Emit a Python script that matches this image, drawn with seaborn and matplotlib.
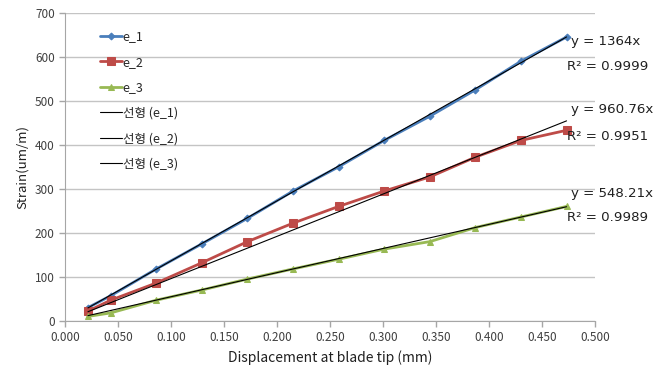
import numpy as np
import pandas as pd
import seaborn as sns
import matplotlib
matplotlib.use("Agg")
import matplotlib.pyplot as plt
from matplotlib.ticker import FormatStrFormatter

# data
disp = [0.0215, 0.043, 0.086, 0.129, 0.172, 0.215, 0.258, 0.301, 0.344, 0.387, 0.430, 0.473]
e_1 = [30, 57, 118, 175, 233, 295, 350, 410, 465, 525, 590, 645]
e_2 = [22, 47, 86, 132, 180, 222, 260, 295, 327, 372, 410, 433]
e_3 = [10, 18, 47, 70, 95, 118, 140, 163, 180, 212, 236, 260]
slopes = [1364, 960.76, 548.21]
r2 = ["0.9999", "0.9951", "0.9989"]
names = ["e_1", "e_2", "e_3"]

sns.set_style("white")
plt.rcParams["font.family"] = ["Noto Sans CJK KR", "DejaVu Sans"]

colors = ["#4A7EBB", "#BE4B48", "#98B954"]
markers = ["D", "s", "^"]
msizes = [3.5, 5.5, 5]

fig = plt.figure(figsize=(6.65, 3.77), dpi=100)
ax = fig.add_axes([0.098, 0.149, 0.797, 0.817])

for ys, name, c, m, ms in zip([e_1, e_2, e_3], names, colors, markers, msizes):
    sns.lineplot(x=disp, y=ys, ax=ax, color=c, marker=m, markersize=ms,
                 markeredgecolor=c, linewidth=2, label=name)

x = np.array([disp[0], disp[-1]])
for s, name in zip(slopes, names):
    sns.lineplot(x=x, y=s * x, ax=ax, color="black", linewidth=0.8,
                 label=f"선형 ({name})")

# trendline equations
txt_pos = [(634, 577), (480, 420), (289, 234)]
for s, r, (yy, yr) in zip(slopes, r2, txt_pos):
    ax.text(0.477, yy, f"y = {s:g}x", fontsize=9.6, va="center", ha="left",
            family="DejaVu Sans", color="#202020")
    ax.text(0.473, yr, f"R² = {r}", fontsize=9.6, va="center", ha="left",
            family="DejaVu Sans", color="#202020")

ax.set_xlim(0, 0.5)
ax.set_ylim(0, 700)
ax.set_xticks(np.arange(0, 0.501, 0.05))
ax.set_yticks(np.arange(0, 701, 100))
ax.xaxis.set_major_formatter(FormatStrFormatter("%.3f"))
ax.yaxis.grid(True, color="#C4C4C4", linewidth=1)
ax.set_axisbelow(True)

for side in ["top", "right"]:
    ax.spines[side].set_visible(False)
for side in ["left", "bottom"]:
    ax.spines[side].set_color("#A6A6A6")
ax.tick_params(axis="both", colors="#A6A6A6", labelcolor="#404040", labelsize=8.5,
               direction="out", length=4, width=1, bottom=True, left=True)

ax.set_xlabel("Displacement at blade tip (mm)", fontsize=10, color="#202020")
ax.set_ylabel("Strain(um/m)", fontsize=9.5, color="#202020")

leg = ax.legend(loc="upper left", bbox_to_anchor=(0.045, 0.98), frameon=False,
                fontsize=9, labelspacing=1.0, handlelength=1.7, handletextpad=0.1)

fig.savefig("out.png", dpi=100)
